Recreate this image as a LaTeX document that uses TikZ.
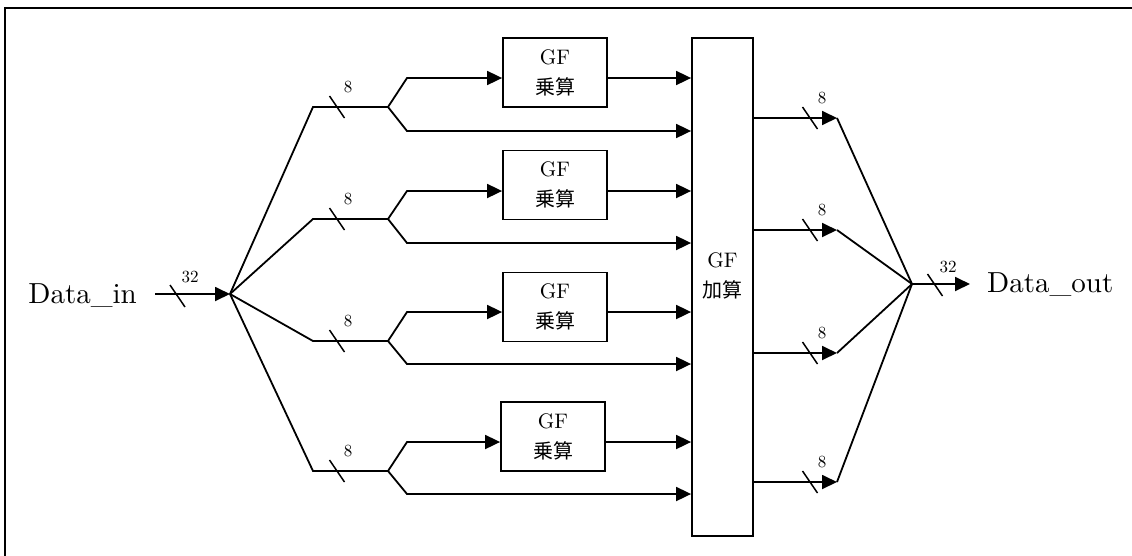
\documentclass[tikz,border=0pt]{standalone}
\usepackage{fontspec}
\setmainfont{lmroman10-regular}[Extension=.otf]
\newfontfamily\jp{Noto Sans CJK JP}
\usetikzlibrary{arrows.meta,calc}
\begin{document}
\begin{tikzpicture}[x=1pt,y=-1pt,
  ln/.style={line width=1.8pt, line join=miter},
  arr/.style={ln,-{Triangle[length=15pt,width=14pt]}},
  box/.style={draw,line width=1.8pt,rectangle,inner sep=0pt},
  mul/.style={box,minimum width=104pt,minimum height=69pt,align=center,font=\fontsize{21}{30}\selectfont},
  busno/.style={font=\fontsize{17}{17}\selectfont,inner sep=0pt},
  big/.style={font=\fontsize{29}{34}\selectfont,inner sep=0pt},
  bus/.pic={\draw[line width=1.5pt] (-7.5,-11)--(7.5,11);}
]
\useasboundingbox (0,0) rectangle (1132,555);
\clip (0,0) rectangle (1132,555);
\draw[line width=1.8pt] (5,8) rectangle (1150,570);

% input
\node[big,anchor=base east] (din) at (137,303) {Data\_in};
\coordinate (fan) at (230,294);
\draw[arr,shorten <=18pt] (din.east |- fan) -- (fan);
\pic at (177.5,296) {bus};
\node[busno] (n32a) at (190,277) {32};

% adder
\node[box,minimum width=61pt,minimum height=498pt] (add) at (722.5,287) {};
\node[align=center,font=\fontsize{21}{30}\selectfont] (addt) at (722.5,276) {GF\\{\jp\fontsize{20}{30}\selectfont 加算}};

% branches
\foreach \i/\h/\u/\l/\mx/\my in {1/107/78/131/555/72.5, 2/219/191/243/555/185, 3/341/312/364/555/307, 4/471/442/494/553/436.5} {
  \coordinate (c\i) at (313,\h);
  \coordinate (f\i) at (388,\h);
  \coordinate (fu\i) at (407,\u);
  \coordinate (fl\i) at (407,\l);
  \node[mul] (m\i) at (\mx,\my) {GF\\{\jp\fontsize{20}{30}\selectfont 乗算}};
  \draw[ln] (fan) -- (c\i) -- (f\i);
  \draw[arr] (f\i) -- (fu\i) -- (m\i.west |- fu\i);
  \draw[arr] (m\i.east |- fu\i) -- (add.west |- fu\i);
  \draw[arr] (f\i) -- (fl\i) -- (add.west |- fl\i);
  \pic at (337,\h) {bus};
  \node[busno] (nb\i) at (348,\h-20) {8};
}

% outputs
\coordinate (mrg) at (912,284);
\node[big,anchor=base west] (dout) at (987,292) {Data\_out};
\foreach \i/\o in {1/118,2/230,3/353,4/482} {
  \coordinate (o\i) at (837,\o);
  \draw[arr] (add.east |- o\i) -- (o\i);
  \draw[ln] (o\i) -- (mrg);
  \pic at (810,\o) {bus};
  \node[busno] (no\i) at (822,\o-20) {8};
}
\draw[arr,shorten >=17pt] (mrg) -- (dout.west |- mrg);
\pic at (935,285) {bus};
\node[busno] (n32b) at (948,267) {32};
\end{tikzpicture}
\end{document}
